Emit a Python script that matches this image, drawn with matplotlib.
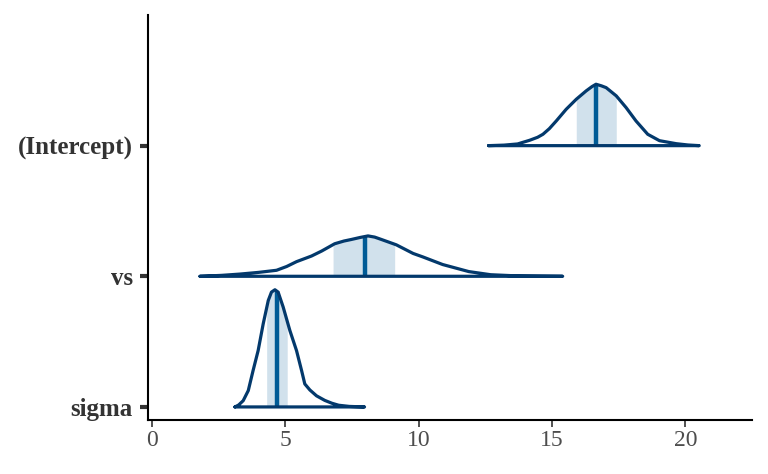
import numpy as np
import matplotlib
matplotlib.use("Agg")
import matplotlib.pyplot as plt

params = ["(Intercept)", "vs", "sigma"]
positions = [3, 2, 1]

# density outlines (x, scaled height)
int_x = [12.62, 13.2, 13.71, 14.16, 14.46, 14.66, 14.9, 15.16, 15.53, 15.91, 16.28, 16.50, 16.65, 16.85, 17.03, 17.41, 17.78, 18.15, 18.59, 19.03, 19.66, 20.1, 20.52]
int_h = [0.0, 0.004, 0.013, 0.041, 0.064, 0.087, 0.130, 0.189, 0.278, 0.355, 0.419, 0.452, 0.470, 0.458, 0.444, 0.381, 0.291, 0.189, 0.087, 0.038, 0.015, 0.005, 0.0]
int_ci = (15.91, 17.41)
int_med = 16.65

vs_x = [1.80, 2.6, 3.30, 4.0, 4.67, 5.05, 5.42, 5.98, 6.36, 6.85, 7.2, 7.48, 7.80, 8.10, 8.35, 8.60, 9.16, 9.79, 10.16, 10.9, 11.88, 12.7, 13.7, 15.4]
vs_h = [0.0, 0.007, 0.017, 0.030, 0.046, 0.075, 0.112, 0.155, 0.193, 0.249, 0.270, 0.282, 0.297, 0.309, 0.300, 0.282, 0.241, 0.175, 0.148, 0.090, 0.036, 0.012, 0.003, 0.0]
vs_ci = (6.79, 9.10)
vs_med = 7.98

sig_x = [3.11, 3.25, 3.42, 3.61, 3.79, 3.98, 4.17, 4.36, 4.48, 4.61, 4.73, 4.92, 5.17, 5.42, 5.61, 5.73, 5.92, 6.17, 6.48, 6.75, 7.0, 7.4, 7.97]
sig_h = [0.0, 0.015, 0.048, 0.125, 0.278, 0.431, 0.636, 0.815, 0.879, 0.897, 0.879, 0.764, 0.585, 0.431, 0.278, 0.176, 0.130, 0.085, 0.050, 0.028, 0.013, 0.004, 0.0]
sig_ci = (4.30, 5.07)
sig_med = 4.67

xticks = [0, 5, 10, 15, 20]

outline = "#03396c"
med_col = "#005b96"
fill_col = "#d1e1ec"

fig = plt.figure(figsize=(7.68, 4.74), dpi=100)
ax = fig.add_axes([148/768, 54/474, 604/768, 405/474])

series = [(int_x, int_h, int_ci, int_med), (vs_x, vs_h, vs_ci, vs_med), (sig_x, sig_h, sig_ci, sig_med)]
for pos, (xs, hs, ci, med) in zip(positions, series):
    xs = np.asarray(xs); hs = np.asarray(hs)
    xf = np.concatenate([[ci[0]], xs[(xs > ci[0]) & (xs < ci[1])], [ci[1]]])
    hf = np.interp(xf, xs, hs)
    ax.fill_between(xf, pos, pos + hf, color=fill_col, linewidth=0, zorder=1)
    hm = np.interp(med, xs, hs)
    ax.plot([med, med], [pos, pos + hm], color=med_col, lw=3.2, solid_capstyle="butt", zorder=2)
    ax.plot(np.r_[xs, xs[0]], np.r_[pos + hs, pos], color=outline, lw=2.3,
            solid_joinstyle="round", solid_capstyle="round", zorder=3)

ax.set_xlim(-0.15, 22.5)
ax.set_ylim(0.90, 4.0)
ax.set_yticks(positions)
ax.set_yticklabels(params, family="Liberation Serif", fontweight="bold", fontsize=18, color="#333333")
ax.set_xticks(xticks)
ax.set_xticklabels([str(t) for t in xticks], family="Liberation Serif", fontsize=17, color="#4d4d4d")
for s in ["top", "right"]:
    ax.spines[s].set_visible(False)
for s in ["left", "bottom"]:
    ax.spines[s].set_linewidth(1.5)
    ax.spines[s].set_color("black")
ax.tick_params(axis="y", length=6, width=3, color="#333333", pad=5)
ax.tick_params(axis="x", length=5, width=1.2, color="#333333", pad=2)

fig.savefig("out.png", dpi=100)
